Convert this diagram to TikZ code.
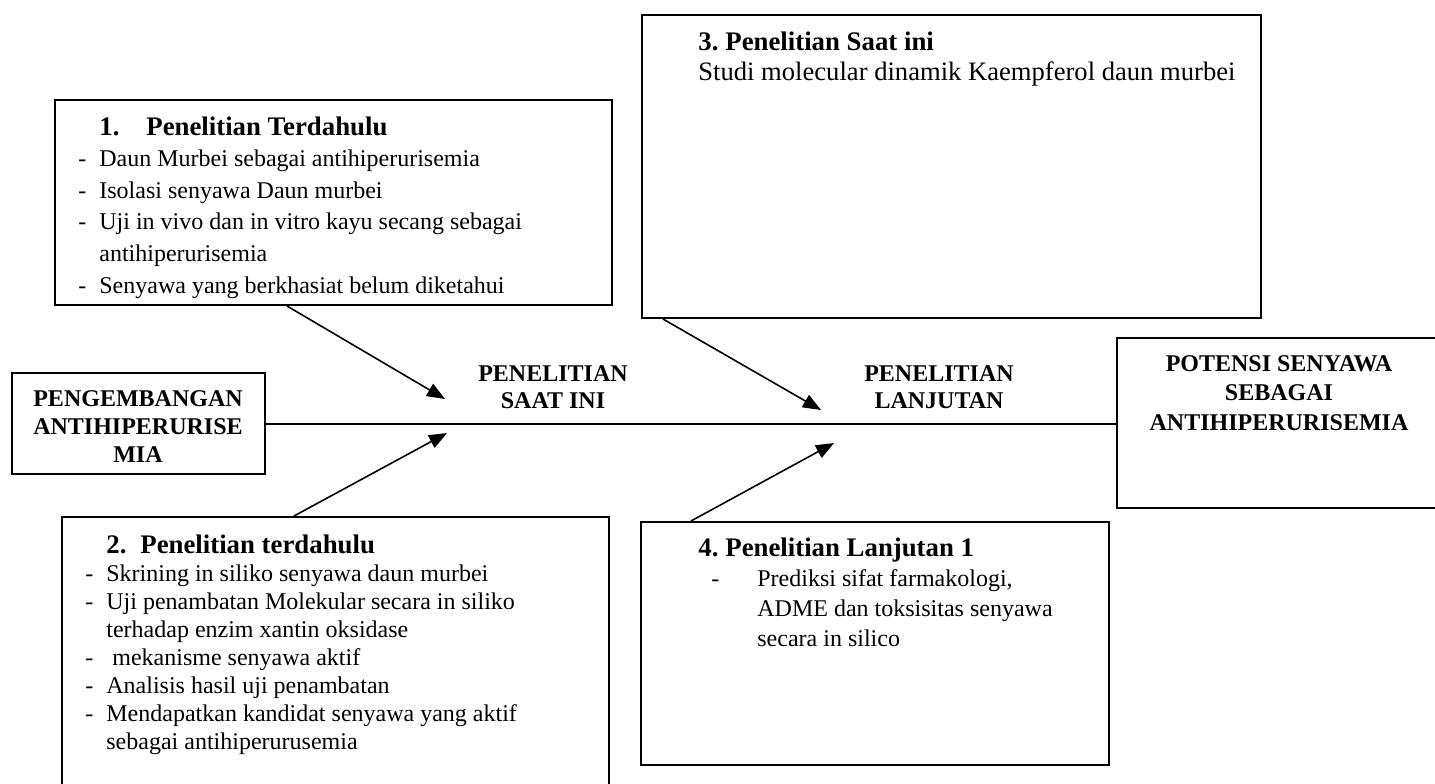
\documentclass[tikz,border=0pt]{standalone}
\usepackage{fontspec}
\setmainfont{Liberation Serif}
\usetikzlibrary{arrows.meta, positioning, calc}
\newcommand{\dashitem}[1]{\makebox[10.5pt][l]{-}#1}
\newcommand{\boxhead}[2]{{\fontsize{13.4}{15}\selectfont\bfseries\makebox[#1][l]{#2}}}

\begin{document}
\begin{tikzpicture}[
  x=0.5pt, y=-0.5pt,
  box/.style={draw, line width=1pt, inner sep=0pt, anchor=north west},
  txt/.style={inner sep=0pt, anchor=base west, align=left,
    font=\fontsize{12}{#1}\selectfont},
  lbl/.style={inner sep=0pt, anchor=base, align=center,
    font=\fontsize{12}{#1}\selectfont\bfseries},
  arr/.style={-{Triangle[length=9pt, width=7pt]}, line width=0.8pt}
]
  \useasboundingbox (0,0) rectangle (1435,783);
  \clip (0,0) rectangle (1435,783);
  \fill[white] (0,0) rectangle (1435,783);

  % Boxes
  \node[box, minimum width=126.5pt, minimum height=50.5pt] (devbox) at (11,372) {};
  \node[box, minimum width=278.5pt, minimum height=102.5pt] (prev1) at (54,99) {};
  \node[box, minimum width=273.5pt, minimum height=142pt] (prev2) at (61,516) {};
  \node[box, minimum width=309.5pt, minimum height=151.5pt] (curr) at (641,14) {};
  \node[box, minimum width=234pt, minimum height=121.5pt] (next1) at (640,521) {};
  \node[box, minimum width=167pt, minimum height=85pt] (goal) at (1116,337) {};

  % Box 1 text, clipped by its frame (anchored at the last line)
  \begin{scope}
    \clip (prev1.south west) rectangle (prev1.north east);
    \node[txt=15.8pt] (prev1txt) at (78,293) {%
      \hspace*{10.5pt}\boxhead{23.5pt}{1.}{\fontsize{13.4}{15}\selectfont\bfseries Penelitian Terdahulu}\\
      \dashitem{Daun Murbei sebagai antihiperurisemia}\\
      \dashitem{Isolasi senyawa Daun murbei}\\
      \dashitem{Uji in vivo dan in vitro kayu secang sebagai}\\
      \hspace*{10.5pt}antihiperurisemia\\
      \dashitem{Senyawa yang berkhasiat belum diketahui}};
  \end{scope}

  % Box 2 text
  \node[txt=14pt] (prev2txt) at (85,749) {%
    \hspace*{10.5pt}\boxhead{17pt}{2.}{\fontsize{13.4}{15}\selectfont\bfseries Penelitian terdahulu}\\
    \dashitem{Skrining in siliko senyawa daun murbei}\\
    \dashitem{Uji penambatan Molekular secara in siliko}\\
    \hspace*{10.5pt}terhadap enzim xantin oksidase\\
    \dashitem{\hspace*{3pt}mekanisme senyawa aktif}\\
    \dashitem{Analisis hasil uji penambatan}\\
    \dashitem{Mendapatkan kandidat senyawa yang aktif}\\
    \hspace*{10.5pt}sebagai antihiperurusemia};

  % Box 3 text
  \node[txt=15pt, font=\fontsize{13.3}{15}\selectfont] (currtxt) at (698,80) {%
    \boxhead{13.5pt}{3.}{\fontsize{13.4}{15}\selectfont\bfseries Penelitian Saat ini}\\
    Studi molecular dinamik Kaempferol daun murbei};

  % Box 4 text
  \node[txt=15pt] (next1txt) at (698,646) {%
    \boxhead{13.5pt}{4.}{\fontsize{13.4}{15}\selectfont\bfseries Penelitian Lanjutan 1}\\
    \hspace*{6.5pt}\makebox[23pt][l]{-}Prediksi sifat farmakologi,\\
    \hspace*{29.5pt}ADME dan toksisitas senyawa\\
    \hspace*{29.5pt}secara in silico};

  % Labels
  \node[lbl=14pt] (devtxt) at (138,462) {PENGEMBANGAN\\ANTIHIPERURISE\\MIA};
  \node[lbl=14.75pt] (goaltxt) at (1279,430) {POTENSI SENYAWA\\SEBAGAI\\ANTIHIPERURISEMIA};
  \node[lbl=13.5pt] (nowlbl) at (553,408) {PENELITIAN\\SAAT INI};
  \node[lbl=13.5pt] (nextlbl) at (939,408) {PENELITIAN\\LANJUTAN};

  % Spine
  \draw[line width=1pt] (devbox.east) -- (devbox.east -| goal.west);

  % Arrows
  \coordinate (tip1) at (445,399);
  \coordinate (tip2) at (447,433);
  \coordinate (tip3) at (821,410);
  \coordinate (tip4) at (834,443);
  \draw[arr] ($(prev1.south west)+(233,0)$) -- (tip1);
  \draw[arr] ($(prev2.north west)+(233,0)$) -- (tip2);
  \draw[arr] ($(curr.south west)+(22,0)$) -- (tip3);
  \draw[arr] ($(next1.north west)+(51,0)$) -- (tip4);
\end{tikzpicture}
\end{document}
